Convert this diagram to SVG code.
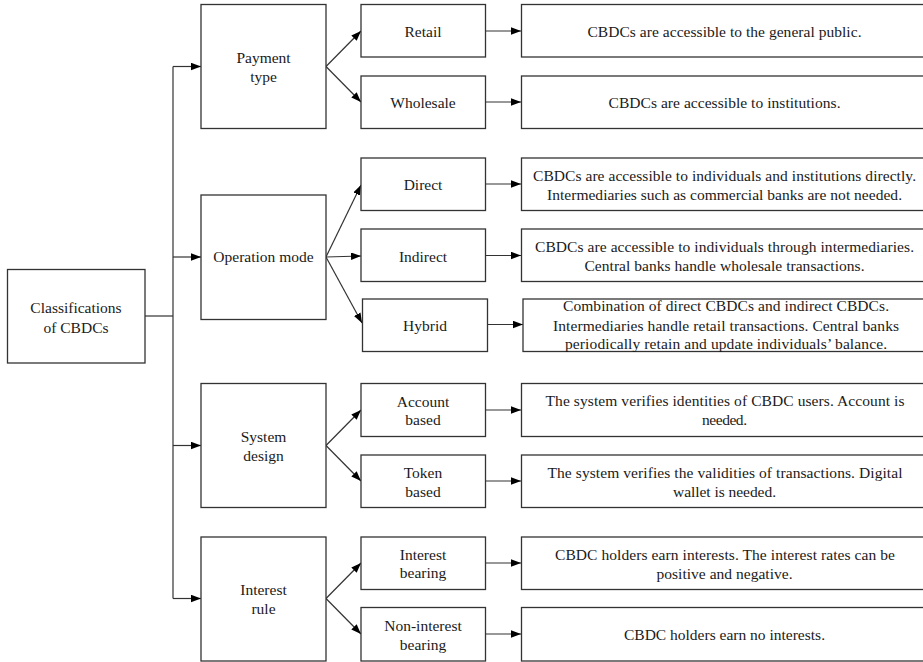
<svg xmlns="http://www.w3.org/2000/svg" width="923" height="662" viewBox="0 0 923 662">
<defs>
<marker id="ah" markerUnits="userSpaceOnUse" markerWidth="11" markerHeight="8" refX="10" refY="3.75" orient="auto">
<path d="M0,0 L10,3.75 L0,7.5 z" fill="#000"/>
</marker>
</defs>
<rect x="0" y="0" width="923" height="662" fill="#fff"/>
<g id="connectors" stroke="#333" stroke-width="1.2" fill="none">
<line x1="145" y1="316" x2="173" y2="316"/>
<line x1="173" y1="66.5" x2="173" y2="598.5"/>
<g marker-end="url(#ah)">
<line x1="173" y1="66.5" x2="201" y2="66.5"/>
<line x1="173" y1="257" x2="201" y2="257"/>
<line x1="173" y1="445.5" x2="201" y2="445.5"/>
<line x1="173" y1="598.5" x2="201" y2="598.5"/>
<line x1="326" y1="66.5" x2="361" y2="31"/>
<line x1="326" y1="66.5" x2="361" y2="102"/>
<line x1="326" y1="257" x2="361" y2="185"/>
<line x1="326" y1="257" x2="361" y2="256"/>
<line x1="326" y1="257" x2="362" y2="323"/>
<line x1="326" y1="445.5" x2="361" y2="410"/>
<line x1="326" y1="445.5" x2="361" y2="481"/>
<line x1="326" y1="598.5" x2="361" y2="563"/>
<line x1="326" y1="598.5" x2="361" y2="634"/>
<line x1="486" y1="31" x2="521" y2="31"/>
<line x1="486" y1="102" x2="521" y2="102"/>
<line x1="486" y1="184" x2="521" y2="184"/>
<line x1="486" y1="255.5" x2="521" y2="255.5"/>
<line x1="488" y1="324.5" x2="523" y2="324.5"/>
<line x1="486" y1="410" x2="521" y2="410"/>
<line x1="486" y1="481" x2="521" y2="481"/>
<line x1="486" y1="563" x2="521" y2="563"/>
<line x1="486" y1="634" x2="521" y2="634"/>
</g>
</g>
<g id="nodes" font-family="Liberation Serif" font-size="15.5" text-anchor="middle">
<g id="root">
<rect x="7.5" y="269.5" width="137.5" height="93.5" fill="#fff" stroke="#333" stroke-width="1.3"/>
<text x="76" y="313" fill="#1a1a1a">Classifications</text>
<text x="76" y="332.5" fill="#1a1a1a">of CBDCs</text>
</g>
<g id="payment-type">
<rect x="201" y="4.5" width="125" height="124" fill="#fff" stroke="#333" stroke-width="1.3"/>
<text x="263.5" y="63" fill="#1a1a1a">Payment</text>
<text x="263.5" y="82" fill="#1a1a1a">type</text>
</g>
<g id="operation-mode">
<rect x="201" y="195" width="125" height="124.5" fill="#fff" stroke="#333" stroke-width="1.3"/>
<text x="263.5" y="262" fill="#1a1a1a">Operation mode</text>
</g>
<g id="system-design">
<rect x="201" y="383.5" width="125" height="124" fill="#fff" stroke="#333" stroke-width="1.3"/>
<text x="263.5" y="442" fill="#1a1a1a">System</text>
<text x="263.5" y="461" fill="#1a1a1a">design</text>
</g>
<g id="interest-rule">
<rect x="201" y="537" width="125" height="124" fill="#fff" stroke="#333" stroke-width="1.3"/>
<text x="263.5" y="595" fill="#1a1a1a">Interest</text>
<text x="263.5" y="614" fill="#1a1a1a">rule</text>
</g>
<g id="retail">
<rect x="361" y="4.5" width="124.5" height="52.5" fill="#fff" stroke="#333" stroke-width="1.3"/>
<text x="423" y="36.5" fill="#1a1a1a">Retail</text>
</g>
<g id="wholesale">
<rect x="361" y="76" width="124.5" height="52.5" fill="#fff" stroke="#333" stroke-width="1.3"/>
<text x="423" y="108" fill="#1a1a1a">Wholesale</text>
</g>
<g id="direct">
<rect x="361" y="158" width="124.5" height="52.5" fill="#fff" stroke="#333" stroke-width="1.3"/>
<text x="423" y="190" fill="#1a1a1a">Direct</text>
</g>
<g id="indirect">
<rect x="361" y="229" width="124.5" height="52.5" fill="#fff" stroke="#333" stroke-width="1.3"/>
<text x="423" y="261.5" fill="#1a1a1a">Indirect</text>
</g>
<g id="hybrid">
<rect x="362.5" y="299" width="125" height="52.5" fill="#fff" stroke="#333" stroke-width="1.3"/>
<text x="425" y="330.5" fill="#1a1a1a">Hybrid</text>
</g>
<g id="account-based">
<rect x="361" y="383.5" width="124.5" height="53" fill="#fff" stroke="#333" stroke-width="1.3"/>
<text x="423" y="406.5" fill="#1a1a1a">Account</text>
<text x="423" y="425" fill="#1a1a1a">based</text>
</g>
<g id="token-based">
<rect x="361" y="455" width="124.5" height="52.5" fill="#fff" stroke="#333" stroke-width="1.3"/>
<text x="423" y="478" fill="#1a1a1a">Token</text>
<text x="423" y="496.5" fill="#1a1a1a">based</text>
</g>
<g id="interest-bearing">
<rect x="361" y="537" width="124.5" height="52.5" fill="#fff" stroke="#333" stroke-width="1.3"/>
<text x="423" y="559.5" fill="#1a1a1a">Interest</text>
<text x="423" y="578" fill="#1a1a1a">bearing</text>
</g>
<g id="non-interest-bearing">
<rect x="361" y="607.5" width="124.5" height="53.5" fill="#fff" stroke="#333" stroke-width="1.3"/>
<text x="423" y="630.5" fill="#1a1a1a">Non-interest</text>
<text x="423" y="649.5" fill="#1a1a1a">bearing</text>
</g>
<g id="desc-retail">
<rect x="521.5" y="4.5" width="410" height="52.5" fill="#fff" stroke="#333" stroke-width="1.3"/>
<text x="724.5" y="37" fill="#1a1a1a" textLength="274" lengthAdjust="spacing">CBDCs are accessible to the general public.</text>
</g>
<g id="desc-wholesale">
<rect x="521.5" y="76" width="410" height="52.5" fill="#fff" stroke="#333" stroke-width="1.3"/>
<text x="724.5" y="108" fill="#1a1a1a" textLength="232" lengthAdjust="spacing">CBDCs are accessible to institutions.</text>
</g>
<g id="desc-direct">
<rect x="521.5" y="158" width="410" height="52.5" fill="#fff" stroke="#333" stroke-width="1.3"/>
<text x="724.5" y="181" fill="#1a1a1a" textLength="383" lengthAdjust="spacing">CBDCs are accessible to individuals and institutions directly.</text>
<text x="724.5" y="199.5" fill="#1a1a1a" textLength="355" lengthAdjust="spacing">Intermediaries such as commercial banks are not needed.</text>
</g>
<g id="desc-indirect">
<rect x="521.5" y="229" width="410" height="52.5" fill="#fff" stroke="#333" stroke-width="1.3"/>
<text x="724.5" y="252" fill="#1a1a1a" textLength="379" lengthAdjust="spacing">CBDCs are accessible to individuals through intermediaries.</text>
<text x="724.5" y="270.5" fill="#1a1a1a" textLength="280" lengthAdjust="spacing">Central banks handle wholesale transactions.</text>
</g>
<g id="desc-hybrid">
<rect x="523" y="299" width="410" height="52.5" fill="#fff" stroke="#333" stroke-width="1.3"/>
<text x="726" y="311" fill="#1a1a1a" textLength="326" lengthAdjust="spacing">Combination of direct CBDCs and indirect CBDCs.</text>
<text x="726" y="330.5" fill="#1a1a1a" textLength="346" lengthAdjust="spacing">Intermediaries handle retail transactions. Central banks</text>
<text x="726" y="349" fill="#1a1a1a" textLength="322" lengthAdjust="spacing">periodically retain and update individuals&#8217; balance.</text>
</g>
<g id="desc-account">
<rect x="521.5" y="383.5" width="410" height="53" fill="#fff" stroke="#333" stroke-width="1.3"/>
<text x="725" y="406" fill="#1a1a1a" textLength="359" lengthAdjust="spacing">The system verifies identities of CBDC users. Account is</text>
<text x="724.5" y="425" fill="#1a1a1a" textLength="45" lengthAdjust="spacing">needed.</text>
</g>
<g id="desc-token">
<rect x="521.5" y="455" width="410" height="52.5" fill="#fff" stroke="#333" stroke-width="1.3"/>
<text x="725" y="478" fill="#1a1a1a" textLength="355" lengthAdjust="spacing">The system verifies the validities of transactions. Digital</text>
<text x="724.5" y="497" fill="#1a1a1a" textLength="103" lengthAdjust="spacing">wallet is needed.</text>
</g>
<g id="desc-interest">
<rect x="521.5" y="537" width="410" height="52.5" fill="#fff" stroke="#333" stroke-width="1.3"/>
<text x="725" y="560" fill="#1a1a1a" textLength="340" lengthAdjust="spacing">CBDC holders earn interests. The interest rates can be</text>
<text x="724.5" y="578.5" fill="#1a1a1a" textLength="136" lengthAdjust="spacing">positive and negative.</text>
</g>
<g id="desc-non-interest">
<rect x="521.5" y="607.5" width="410" height="53.5" fill="#fff" stroke="#333" stroke-width="1.3"/>
<text x="724.5" y="640" fill="#1a1a1a" textLength="201" lengthAdjust="spacing">CBDC holders earn no interests.</text>
</g>
</g>
</svg>
